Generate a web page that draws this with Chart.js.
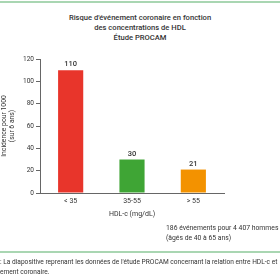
<!DOCTYPE html>
<html>
<head>
<meta charset="utf-8">
<script src="https://cdn.jsdelivr.net/npm/chart.js@4"></script>
<style>
  html, body { margin: 0; padding: 0; background: #fff; overflow: hidden; }
  #wrap { position: relative; width: 280px; height: 280px; font-family: Roboto, sans-serif; color: #333; }
  #chart { position: absolute; left: 0; top: 0; }
  .line { position: absolute; left: 0; width: 280px; height: 2px; background: #a9d6b2; }
  .txt { position: absolute; white-space: nowrap; }
  #title { left: 0; width: 280px; top: 13px; text-align: center; font-size: 7.6px; line-height: 10px; font-weight: 500; }
  #note { left: 166px; top: 224px; font-size: 6.8px; line-height: 9.5px; }
  #caption { left: 0; top: 257px; font-size: 6.6px; line-height: 10px; }
</style>
</head>
<body>
<div id="wrap">
  <div class="line" style="top:1px"></div>
  <div id="title" class="txt">Risque d'événement coronaire en fonction<br>des concentrations de HDL<br>Étude PROCAM</div>
  <canvas id="chart" width="280" height="280"></canvas>
  <div id="note" class="txt">186 événements pour 4 407 hommes<br>(âgés de 40 à 65 ans)</div>
  <div class="line" style="top:251px"></div>
  <div id="caption" class="txt">: La diapositive reprenant les données de l'étude PROCAM concernant la relation entre HDL-c et<br>ement coronaire.</div>
</div>
<script>
const categories = ['< 35', '35-55', '> 55'];
const incidence = [110, 30, 21];
const barColors = ['#e8352b', '#3fa535', '#f39200'];
const yTicks = [0, 20, 40, 60, 80, 100, 120];

const ctx = document.getElementById('chart').getContext('2d');

const valueLabels = {
    id: 'valueLabels',
    afterDatasetsDraw(chart) {
        const c = chart.ctx;
        const meta = chart.getDatasetMeta(0);
        c.save();
        c.font = '500 7.5px Roboto, sans-serif';
        c.fillStyle = '#333';
        c.textAlign = 'center';
        c.textBaseline = 'bottom';
        meta.data.forEach((bar, i) => {
            c.fillText(incidence[i], bar.x, bar.y - 2);
        });
        c.restore();
    }
};

new Chart(ctx, {
    type: 'bar',
    data: {
        labels: categories,
        datasets: [{
            data: incidence,
            backgroundColor: barColors,
            borderWidth: 0,
            categoryPercentage: 1,
            barPercentage: 0.41
        }]
    },
    options: {
        responsive: false,
        animation: false,
        layout: { padding: { top: 59, left: 0, right: 56, bottom: 62 } },
        plugins: {
            legend: { display: false },
            tooltip: { enabled: false }
        },
        scales: {
            x: {
                grid: { display: false, drawTicks: false },
                border: { color: '#666', width: 1 },
                ticks: { color: '#333', font: { family: 'Roboto', size: 7 }, padding: 4 },
                title: { display: true, text: 'HDL-c (mg/dL)', color: '#333', font: { family: 'Roboto', size: 7 }, padding: 0 },
                afterFit(scale) { scale.height = 25; }
            },
            y: {
                min: 0,
                max: 120,
                afterBuildTicks(scale) { scale.ticks = yTicks.map(v => ({ value: v })); },
                grid: { drawOnChartArea: false, drawTicks: true, tickLength: 4, color: '#666' },
                border: { color: '#666', width: 1 },
                ticks: { color: '#333', font: { family: 'Roboto', size: 6.5 }, padding: 2 },
                title: { display: true, text: ['Incidence pour 1000', '(sur 6 ans)'], color: '#333', font: { family: 'Roboto', size: 6.8, lineHeight: 1.2 }, padding: 0 },
                afterFit(scale) { scale.width = 40; }
            }
        }
    },
    plugins: [valueLabels]
});
</script>
</body>
</html>
